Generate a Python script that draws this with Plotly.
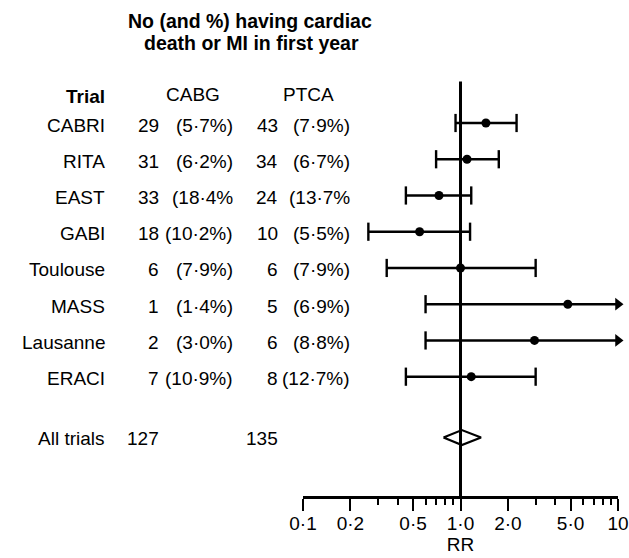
import plotly.graph_objects as go
import math

# ---------------- data ----------------
trials = ["CABRI", "RITA", "EAST", "GABI", "Toulouse", "MASS", "Lausanne", "ERACI"]
cabg_n = [29, 31, 33, 18, 6, 1, 2, 7]
cabg_pct = ["(5·7%)", "(6·2%)", "(18·4%", "(10·2%)", "(7·9%)", "(1·4%)", "(3·0%)", "(10·9%)"]
ptca_n = [43, 34, 24, 10, 6, 5, 6, 8]
ptca_pct = ["(7·9%)", "(6·7%)", "(13·7%", "(5·5%)", "(7·9%)", "(6·9%)", "(8·8%)", "(12·7%)"]
rr = [1.45, 1.10, 0.73, 0.55, 1.0, 4.8, 2.95, 1.17]
ci_lo = [0.93, 0.70, 0.45, 0.26, 0.34, 0.60, 0.60, 0.45]
ci_hi = [2.27, 1.75, 1.17, 1.15, 3.0, None, None, 3.0]   # None: upper limit beyond 10 (arrow)

pooled_label = "All trials"
pooled_cabg_n = 127
pooled_ptca_n = 135
pooled_rr = 1.02
pooled_lo = 0.78
pooled_hi = 1.35

tick_vals = [0.1, 0.2, 0.5, 1, 2, 5, 10]
tick_text = ["0·1", "0·2", "0·5", "1·0", "2·0", "5·0", "10"]
minor_vals = [0.3, 0.4, 0.6, 0.7, 0.8, 0.9, 3, 4, 6, 7, 8, 9]

# ---------------- layout constants ----------------
W, H = 629, 558
ROW0_PX, ROW_STEP = 123.0, 36.24          # pixel y of first row, row spacing
POOLED_ROW = 8.68
AXIS_PX = 497.0
X_LEFT_PX, X_RIGHT_PX = 303.0, 618.0
X_MAX = 10

def px_to_row(py):
    return (py - ROW0_PX) / ROW_STEP

def px_x(px):
    return px / W

def px_y(py):
    return 1 - py / H

FONT = "Liberation Sans, Arial, sans-serif"
FS = 19
INK = "#000000"

rows = list(range(len(trials)))

fig = go.Figure()

# reference line at RR = 1
fig.add_trace(go.Scatter(
    x=[1, 1], y=[px_to_row(81.5), px_to_row(AXIS_PX)],
    mode="lines", line=dict(color=INK, width=3), hoverinfo="skip"))

# CI lines
lx, ly = [], []
for r, lo, hi in zip(rows, ci_lo, ci_hi):
    lx += [lo, hi if hi is not None else X_MAX, None]
    ly += [r, r, None]
fig.add_trace(go.Scatter(x=lx, y=ly, mode="lines",
                         line=dict(color=INK, width=2.4), hoverinfo="skip"))

# caps
cx, cy = [], []
for r, lo, hi in zip(rows, ci_lo, ci_hi):
    cx.append(lo); cy.append(r)
    if hi is not None:
        cx.append(hi); cy.append(r)
fig.add_trace(go.Scatter(x=cx, y=cy, mode="markers",
                         marker=dict(symbol="line-ns-open", size=13, color=INK,
                                     line=dict(color=INK, width=2.4)),
                         hoverinfo="skip"))

# arrows for CIs beyond the axis
ax_, ay_ = [], []
for r, hi in zip(rows, ci_hi):
    if hi is None:
        ax_.append(X_MAX); ay_.append(r)
fig.add_trace(go.Scatter(x=ax_, y=ay_, mode="markers", cliponaxis=False,
                         marker=dict(symbol="triangle-right", size=11, color=INK,
                                     line=dict(width=0)),
                         hoverinfo="skip"))

# point estimates
fig.add_trace(go.Scatter(x=rr, y=rows, mode="markers",
                         marker=dict(symbol="circle", size=9, color=INK),
                         hoverinfo="skip"))

# pooled diamond
dh = 7.5 / ROW_STEP
fig.add_trace(go.Scatter(
    x=[pooled_lo, pooled_rr, pooled_hi, pooled_rr, pooled_lo],
    y=[POOLED_ROW, POOLED_ROW - dh, POOLED_ROW, POOLED_ROW + dh, POOLED_ROW],
    mode="lines", line=dict(color=INK, width=2.2), hoverinfo="skip"))

# ---------------- text table ----------------
ann = []
def txt(x_px, y_row, s, anchor="right", bold=False, size=FS, yref="y"):
    ann.append(dict(x=px_x(x_px), xref="paper", y=y_row, yref=yref,
                    text=("<b>%s</b>" % s) if bold else s, showarrow=False,
                    xanchor=anchor, yanchor="middle",
                    font=dict(family=FONT, size=size, color=INK)))

COL_TRIAL, COL_CN, COL_CP, COL_PN, COL_PP = 107, 161, 235, 280, 352
for r in rows:
    yr = r + 2 / ROW_STEP
    txt(COL_TRIAL, yr, trials[r])
    txt(COL_CN, yr, str(cabg_n[r]))
    txt(COL_CP, yr, cabg_pct[r])
    txt(COL_PN, yr, str(ptca_n[r]))
    txt(COL_PP, yr, ptca_pct[r])

yp = POOLED_ROW + 1 / ROW_STEP
txt(COL_TRIAL, yp, pooled_label)
txt(COL_CN, yp, str(pooled_cabg_n))
txt(COL_PN, yp, str(pooled_ptca_n))

# headers
txt(COL_TRIAL, px_y(96), "Trial", bold=True, yref="paper")
txt(193, px_y(94), "CABG", anchor="center", yref="paper")
txt(308, px_y(94), "PTCA", anchor="center", yref="paper")
txt(250, px_y(21), "No (and %) having cardiac", anchor="center", bold=True, size=19.5, yref="paper")
txt(251, px_y(43), "death or MI in first year", anchor="center", bold=True, size=19.5, yref="paper")

fig.update_layout(
    width=W, height=H, autosize=False,
    margin=dict(l=0, r=0, t=0, b=0, pad=0, autoexpand=False),
    paper_bgcolor="white", plot_bgcolor="white",
    showlegend=False,
    annotations=ann,
    xaxis=dict(
        type="log", range=[math.log10(0.1), math.log10(10)],
        domain=[X_LEFT_PX / W, X_RIGHT_PX / W],
        anchor="free", position=px_y(AXIS_PX), automargin=False,
        showline=True, linecolor=INK, linewidth=2.5,
        showgrid=False, zeroline=False,
        tickmode="array", tickvals=tick_vals, ticktext=tick_text,
        ticks="outside", ticklen=12, tickwidth=2, tickcolor=INK,
        ticklabelstandoff=-4,
        minor=dict(tickmode="array", tickvals=minor_vals, ticks="outside",
                   ticklen=6, tickwidth=2, tickcolor=INK, showgrid=False),
        tickfont=dict(family=FONT, size=FS, color=INK),
        title=dict(text="RR", font=dict(family=FONT, size=FS, color=INK), standoff=2),
    ),
    yaxis=dict(
        range=[px_to_row(H), px_to_row(0)], domain=[0, 1], automargin=False,
        visible=False, showgrid=False, zeroline=False,
    ),
)

fig.write_html("out.html")
